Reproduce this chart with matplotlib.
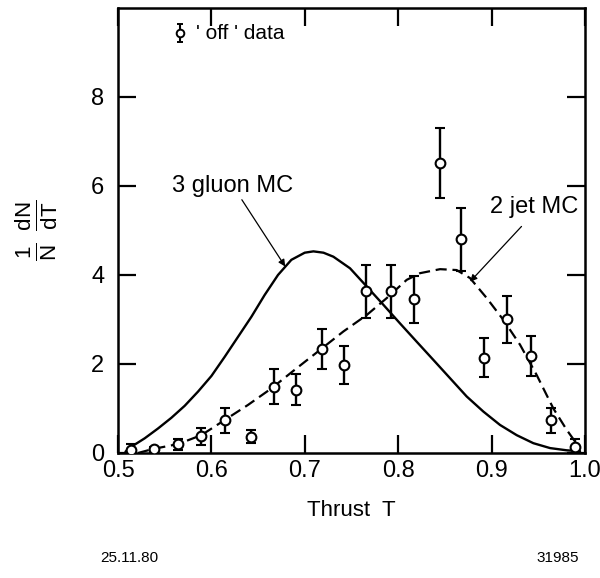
import matplotlib
matplotlib.use("Agg")
import matplotlib.pyplot as plt

plt.rcParams['font.family'] = ['Liberation Sans', 'DejaVu Sans']
plt.rcParams['mathtext.fontset'] = 'custom'
plt.rcParams['mathtext.rm'] = 'Liberation Sans'
plt.rcParams['mathtext.default'] = 'regular'

# 'off' data: thrust bins, normalised counts and errors
thrust = [0.5136, 0.538, 0.5646, 0.5885, 0.6146, 0.642, 0.667, 0.691, 0.718, 0.742,
          0.766, 0.792, 0.817, 0.845, 0.867, 0.892, 0.917, 0.942, 0.9636, 0.989]
dndt = [0.07, 0.08, 0.195, 0.38, 0.73, 0.37, 1.49, 1.42, 2.33, 1.98,
        3.63, 3.63, 3.45, 6.52, 4.80, 2.14, 3.00, 2.18, 0.73, 0.14]
dndt_err = [0.13, 0.05, 0.13, 0.19, 0.28, 0.15, 0.39, 0.35, 0.45, 0.43,
            0.60, 0.60, 0.53, 0.79, 0.71, 0.44, 0.53, 0.44, 0.28, 0.17]

# 3 gluon Monte Carlo
gluon_t = [0.508, 0.5143, 0.5286, 0.5428, 0.5571, 0.5714, 0.5857, 0.600, 0.6142,
           0.6285, 0.6428, 0.657, 0.6713, 0.6856, 0.6999, 0.7092, 0.7200, 0.7306,
           0.7484, 0.7663, 0.7841, 0.802, 0.8198, 0.8377, 0.8555, 0.8733, 0.8912,
           0.909, 0.9269, 0.9447, 0.9626, 0.9804, 0.9947]
gluon_y = [0.03, 0.14, 0.33, 0.55, 0.79, 1.06, 1.38, 1.73, 2.16,
           2.61, 3.06, 3.55, 4.00, 4.34, 4.50, 4.53, 4.50, 4.41,
           4.15, 3.74, 3.33, 2.91, 2.50, 2.09, 1.68, 1.27, 0.93,
           0.63, 0.40, 0.22, 0.11, 0.06, 0.04]

# 2 jet Monte Carlo
jet_t = [0.5214, 0.5375, 0.5642, 0.5892, 0.6142, 0.6392, 0.6642, 0.6892, 0.7141,
         0.7413, 0.7663, 0.7877, 0.8091, 0.8234, 0.8448, 0.8626, 0.8769, 0.8948,
         0.9126, 0.9305, 0.9483, 0.9661, 0.9804, 0.9947]
jet_y = [0.0, 0.09, 0.20, 0.40, 0.74, 1.08, 1.45, 1.87, 2.28,
         2.73, 3.10, 3.48, 3.89, 4.04, 4.13, 4.11, 3.93, 3.48,
         2.99, 2.43, 1.75, 1.00, 0.52, 0.10]

xticks = [0.5, 0.6, 0.7, 0.8, 0.9, 1.0]
xticklabels = ['0.5', '0.6', '0.7', '0.8', '0.9', '1.0']
yticks = [0, 2, 4, 6, 8]

fig = plt.figure(figsize=(6.0, 5.78), dpi=100)
ax = fig.add_axes([0.1967, 0.2163, 0.7783, 0.770])

ax.plot(gluon_t, gluon_y, color='black', lw=1.7, solid_joinstyle='round',
        solid_capstyle='round')
ax.plot(jet_t, jet_y, color='black', lw=1.6, linestyle=(0, (5, 2.6)))

ax.errorbar(thrust, dndt, yerr=dndt_err, fmt='o', color='black', ms=7,
            mfc='white', mec='black', mew=1.5, elinewidth=1.7, capsize=3.4,
            capthick=1.7, zorder=5)

# legend entry
ax.errorbar([0.566], [9.43], yerr=[0.2], fmt='o', color='black', ms=5.5,
            mfc='white', mec='black', mew=1.4, elinewidth=1.5, capsize=2.5,
            capthick=1.5)
ax.text(0.583, 9.43, "' off ' data", fontsize=15, va='center', ha='left')

arrow = dict(arrowstyle='-|>', color='black', lw=0.9, mutation_scale=10,
             shrinkA=0, shrinkB=0)
ax.annotate('3 gluon MC', xy=(0.679, 4.19), xytext=(0.623, 6.0),
            fontsize=17, ha='center', va='center', arrowprops=arrow)
ax.annotate('', xy=(0.877, 3.85), xytext=(0.932, 5.09), arrowprops=arrow)
ax.text(0.945, 5.52, '2 jet MC', fontsize=17, ha='center', va='center')

ax.set_xlim(0.5, 1.0)
ax.set_ylim(0, 10)
ax.set_xticks(xticks)
ax.set_xticklabels(xticklabels)
ax.set_yticks(yticks)
ax.tick_params(direction='in', length=13, width=1.6, top=True, right=True,
               labelsize=17)
ax.tick_params(axis='y', pad=10)
ax.tick_params(axis='x', pad=5)
for side in ax.spines.values():
    side.set_linewidth(1.8)

ax.set_xlabel('Thrust  T', fontsize=16, labelpad=13)
ax.set_ylabel(r'$\frac{1}{N}\ \frac{dN}{dT}$', fontsize=23, labelpad=22)

fig.text(0.215, 0.035, '25.11.80', fontsize=11, ha='center', va='center')
fig.text(0.93, 0.035, '31985', fontsize=11, ha='center', va='center')

fig.savefig('out.png', dpi=100)
